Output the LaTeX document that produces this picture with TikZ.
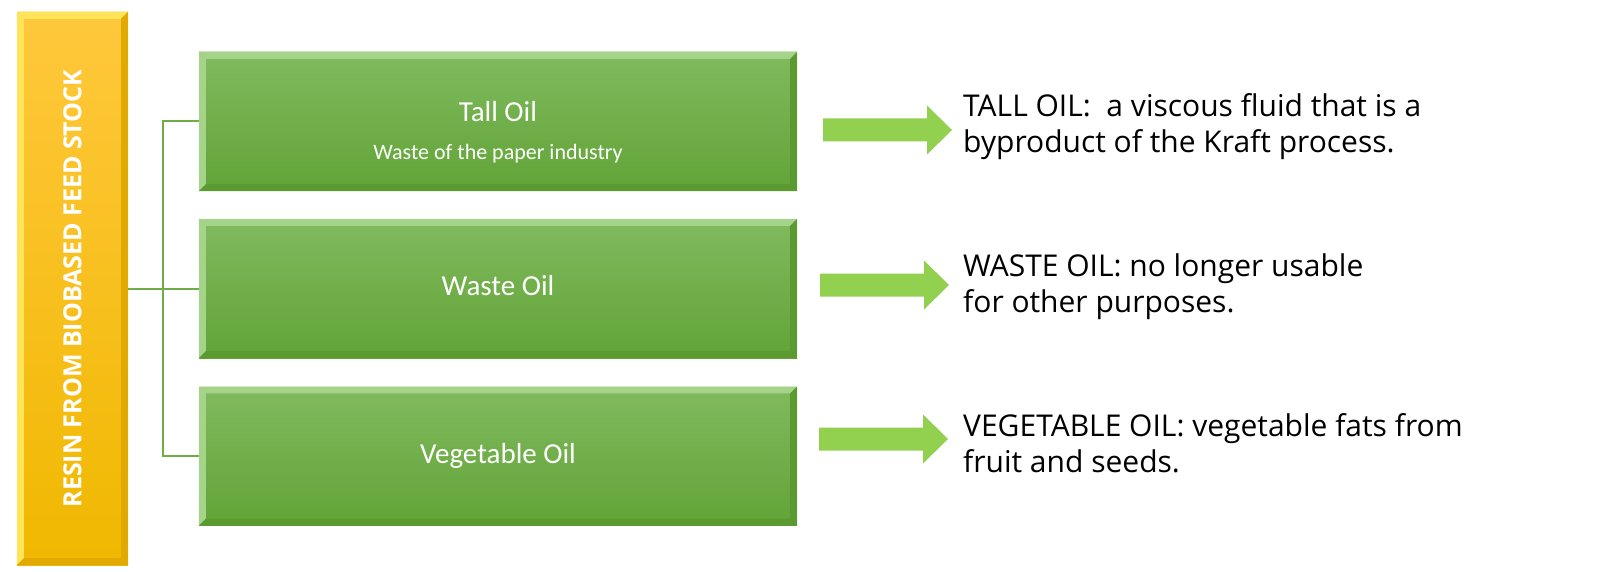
\documentclass[tikz,border=0pt]{standalone}
\usepackage{fontspec}
\setmainfont{Open Sans}
\newfontfamily\boxfont{Carlito}
\usetikzlibrary{calc}
\definecolor{gtop}{HTML}{80BA5E}
\definecolor{gbot}{HTML}{62A437}
\definecolor{glight}{HTML}{A6D38A}
\definecolor{gdark}{HTML}{5A9A30}
\definecolor{ytop}{HTML}{FFC83C}
\definecolor{ybot}{HTML}{F0B800}
\definecolor{ylight}{HTML}{FFE45A}
\definecolor{ydark}{HTML}{E2AA00}
\definecolor{linkgreen}{HTML}{70AD47}
\definecolor{arrowgreen}{HTML}{92D050}
\newcommand\mybevel[3]{%
  \fill[#2] (#1.north west) -- (#1.north east) -- ($(#1.north east)+(-7,7)$) -- ($(#1.north west)+(7,7)$) -- cycle;
  \fill[#2] (#1.north west) -- ($(#1.north west)+(7,7)$) -- ($(#1.south west)+(7,-7)$) -- (#1.south west) -- cycle;
  \fill[#3] (#1.north east) -- (#1.south east) -- ($(#1.south east)+(-7,-7)$) -- ($(#1.north east)+(-7,7)$) -- cycle;
  \fill[#3] (#1.south west) -- ($(#1.south west)+(7,-7)$) -- ($(#1.south east)+(-7,-7)$) -- (#1.south east) -- cycle;
  \draw[white, opacity=0.6, line width=1.2pt] (#1.south west) -- (#1.north west) -- (#1.north east) -- (#1.south east);
}
\newcommand\blockarrow[1]{%
  \fill[arrowgreen] ($(#1)+(0,-11.5)$) -- ($(#1)+(104,-11.5)$) -- ($(#1)+(104,-24.5)$) -- ($(#1)+(129,0)$)
    -- ($(#1)+(104,24.5)$) -- ($(#1)+(104,11.5)$) -- ($(#1)+(0,11.5)$) -- cycle;
}
\begin{document}
\begin{tikzpicture}[x=1pt,y=-1pt,
  greenbox/.style={rectangle, inner sep=0pt, minimum width=598pt, minimum height=139pt,
    top color=gtop, bottom color=gbot, draw=none},
  yellowbar/.style={rectangle, inner sep=0pt, minimum width=111pt, minimum height=553pt,
    top color=ytop, bottom color=ybot, draw=none},
  boxtitle/.style={font=\boxfont\fontsize{29}{34}\selectfont, text=white, inner sep=0pt, anchor=base},
  boxsub/.style={font=\boxfont\fontsize{22}{26}\selectfont, text=white, inner sep=0pt, anchor=base},
  desc/.style={font=\fontsize{30}{36}\selectfont, align=left, anchor=west, inner sep=0pt, text=black},
  link/.style={draw=linkgreen, line width=2pt}
]
\useasboundingbox (0,0) rectangle (1600,572);
\fill[white] (0,0) rectangle (1600,572);

% yellow bar
\node[yellowbar] (bar) at (72.5,288.5) {};
\mybevel{bar}{ylight}{ydark}
\node[rotate=90, text=white, font=\bfseries\fontsize{25}{30}\selectfont, inner sep=0pt] (bartext) at (bar.center) {RESIN FROM BIOBASED FEED STOCK};

% green boxes
\node[greenbox] (b1) at (498,121.5) {};
\node[greenbox] (b2) at (498,288.5) {};
\node[greenbox] (b3) at (498,456) {};
\mybevel{b1}{glight}{gdark}
\mybevel{b2}{glight}{gdark}
\mybevel{b3}{glight}{gdark}

\node[boxtitle] (t1) at (498,122) {Tall Oil};
\node[boxsub] (s1) at (498,160) {Waste of the paper industry};
\node[boxtitle] (t2) at (498,295) {Waste Oil};
\node[boxtitle] (t3) at (498,463) {Vegetable Oil};

% connectors
\coordinate (hub) at (163,288.5);
\draw[link] (bar.east |- hub) -- (b2.west);
\draw[link] (b1.west) -| (hub) |- (b3.west);

% arrows
\coordinate (a1) at (823,130);
\coordinate (a2) at (820,285);
\coordinate (a3) at (819,439);
\blockarrow{a1}
\blockarrow{a2}
\blockarrow{a3}

% descriptions
\node[desc] (d1) at (963,127) {TALL OIL:\ \ a viscous fluid that is a\\byproduct of the Kraft process.};
\node[desc] (d2) at (963,287) {WASTE OIL: no longer usable\\for other purposes.};
\node[desc] (d3) at (963,443) {VEGETABLE OIL: vegetable fats from\\fruit and seeds.};
\end{tikzpicture}
\end{document}
